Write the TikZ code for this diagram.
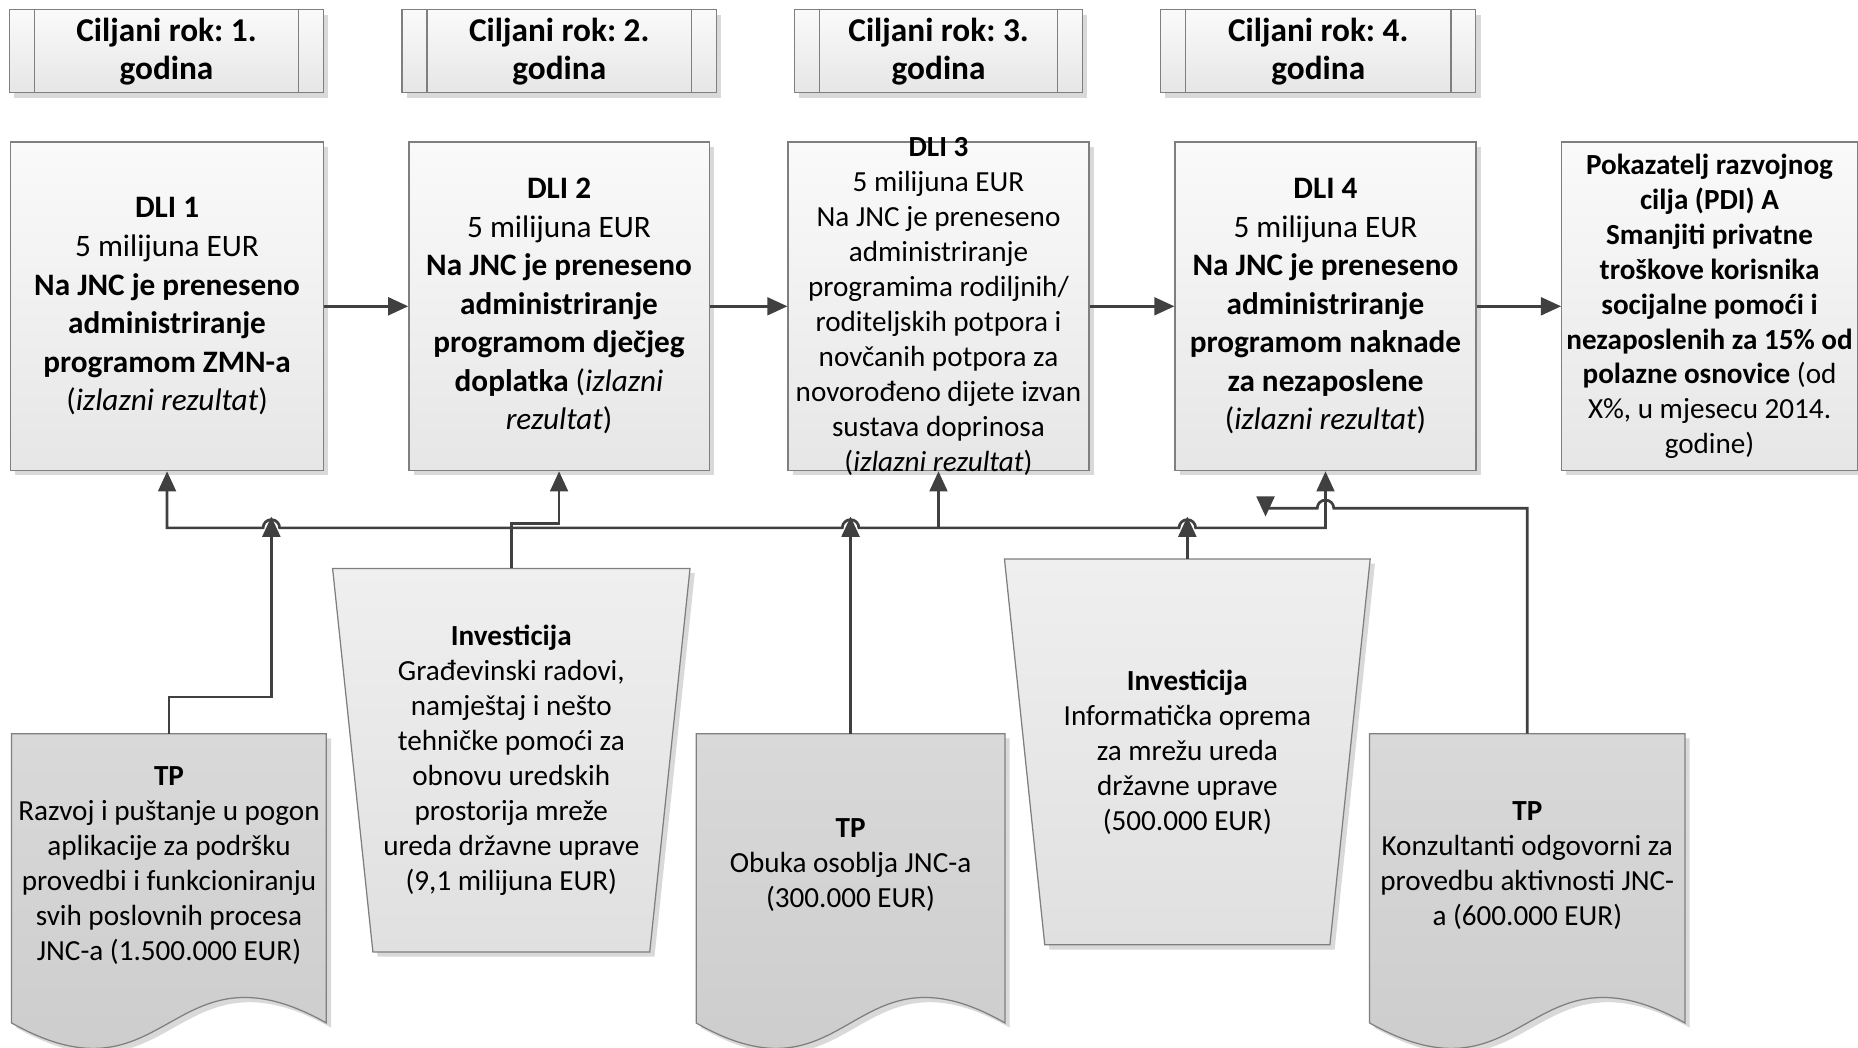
\documentclass[tikz,border=0pt]{standalone}
\usepackage{fontspec}
\setmainfont{Carlito}
\usetikzlibrary{arrows.meta,calc,shadows,backgrounds}
\frenchspacing

\definecolor{LineGray}{HTML}{404040}
\definecolor{EdgeGray}{HTML}{7F7F7F}
\definecolor{ShadowGray}{HTML}{D9D9D9}
\definecolor{BoxTop}{HTML}{FAFAFA}
\definecolor{BoxBottom}{HTML}{E6E6E6}
\definecolor{TpTop}{HTML}{D9D9D9}
\definecolor{TpBottom}{HTML}{CBCBCB}
\definecolor{InvTop}{HTML}{EFEFEF}
\definecolor{InvBottom}{HTML}{E0E0E0}

\newcommand\docpath[1]{(#1.north west) -- (#1.north east) -- ($(#1.south east)+(0,22)$)
  .. controls ($(#1.south)+(0,-52.5)$) and ($(#1.south)+(0,96.5)$) .. ($(#1.south west)+(0,22)$) -- cycle}
\newcommand\trappath[1]{(#1.north west) -- (#1.north east) -- ($(#1.south east)+(-34,0)$)
  -- ($(#1.south west)+(34,0)$) -- cycle}

\begin{document}
\begin{tikzpicture}[
  x=0.02cm, y=-0.02cm,
  every node/.style = {align=center, inner sep=1pt, text=black},
  Shade/.style = {drop shadow={shadow xshift=0.08cm, shadow yshift=-0.08cm, fill=ShadowGray, opacity=1}},
  YearBox/.style = {draw=EdgeGray, line width=0.6pt, top color=BoxTop, bottom color=BoxBottom, Shade,
    minimum height=1.4cm, font=\fontsize{16}{18.3}\selectfont\bfseries,
    path picture={
      \draw[EdgeGray, line width=0.6pt] ([xshift=0.42cm]path picture bounding box.north west) -- ([xshift=0.42cm]path picture bounding box.south west);
      \draw[EdgeGray, line width=0.6pt] ([xshift=-0.42cm]path picture bounding box.north east) -- ([xshift=-0.42cm]path picture bounding box.south east);}},
  DliBox/.style = {draw=EdgeGray, line width=0.6pt, top color=BoxTop, bottom color=BoxBottom, Shade,
    minimum height=5.55cm, font=\fontsize{15}{18.5}\selectfont},
  SmallText/.style = {font=\fontsize{14}{16.8}\selectfont},
  DocBox/.style = {SmallText, minimum height=4.43cm},
  TrapBox/.style = {SmallText}
  ]
  \useasboundingbox (0,0) rectangle (1568,884);

  \node[YearBox, minimum width=5.3cm] (g1) at (140.5,43.3) {Ciljani rok: 1.\\godina};
  \node[YearBox, minimum width=5.31cm] (g2) at (472,43.3) {Ciljani rok: 2.\\godina};
  \node[YearBox, minimum width=4.86cm] (g3) at (792.1,43.3) {Ciljani rok: 3.\\godina};
  \node[YearBox, minimum width=5.32cm] (g4) at (1112.5,43.3) {Ciljani rok: 4.\\godina};

  \node[DliBox, minimum width=5.29cm] (d1) at (141,258.5)
    {\textbf{DLI 1}\\5 milijuna EUR\\\textbf{Na JNC je preneseno}\\\textbf{administriranje}\\
     \textbf{programom ZMN-a}\\(\textit{izlazni rezultat})};
  \node[DliBox, minimum width=5.07cm] (d2) at (471.8,258.5)
    {\textbf{DLI 2}\\5 milijuna EUR\\\textbf{Na JNC je preneseno}\\\textbf{administriranje}\\
     \textbf{programom dječjeg}\\\textbf{doplatka} (\textit{izlazni}\\\textit{rezultat})};
  \node[DliBox, minimum width=5.08cm] (d3) at (792,258.5) {};
  \node[SmallText] (d3t) at (d3.center)
    {\textbf{DLI 3}\\5 milijuna EUR\\Na JNC je preneseno\\administriranje\\programima rodiljnih/\\
     roditeljskih potpora i\\novčanih potpora za\\novorođeno dijete izvan\\sustava doprinosa\\
     (\textit{izlazni rezultat})};
  \node[DliBox, minimum width=5.08cm] (d4) at (1118.6,258.5)
    {\textbf{DLI 4}\\5 milijuna EUR\\\textbf{Na JNC je preneseno}\\\textbf{administriranje}\\
     \textbf{programom naknade}\\\textbf{za nezaposlene}\\(\textit{izlazni rezultat})};
  \node[DliBox, SmallText, minimum width=4.99cm] (pdi) at (1442.7,258.5)
    {\textbf{Pokazatelj razvojnog}\\\textbf{cilja (PDI) A}\\\textbf{Smanjiti privatne}\\
     \textbf{troškove korisnika}\\\textbf{socijalne pomoći i}\\\textbf{nezaposlenih za 15\% od}\\
     \textbf{polazne osnovice} (od\\X\%, u mjesecu 2014.\\godine)};

  \node[DocBox, minimum width=5.3cm] (tp1) at (142.6,730.2)
    {\textbf{TP}\\Razvoj i puštanje u pogon\\aplikacije za podršku\\provedbi i funkcioniranju\\
     svih poslovnih procesa\\JNC-a (1.500.000 EUR)};
  \node[TrapBox, minimum width=6.02cm, minimum height=6.46cm] (inv1) at (431.5,641.5)
    {\textbf{Investicija}\\Građevinski radovi,\\namještaj i nešto\\tehničke pomoći za\\
     obnovu uredskih\\prostorija mreže\\ureda državne uprave\\(9,1 milijuna EUR)};
  \node[DocBox, minimum width=5.2cm] (tp2) at (717.8,730.2)
    {\textbf{TP}\\Obuka osoblja JNC-a\\(300.000 EUR)};
  \node[TrapBox, minimum width=6.16cm, minimum height=6.5cm] (inv2) at (1002,634.5)
    {\textbf{Investicija}\\Informatička oprema\\za mrežu ureda\\državne uprave\\(500.000 EUR)};
  \node[DocBox, minimum width=5.31cm] (tp3) at (1288.9,730.2)
    {\textbf{TP}\\Konzultanti odgovorni za\\provedbu aktivnosti JNC-\\a (600.000 EUR)};

  \begin{pgfonlayer}{background}
    \foreach \n in {tp1,tp2,tp3} {
      \fill[ShadowGray, transform canvas={shift={(0.08cm,-0.08cm)}}] \docpath{\n};
      \draw[EdgeGray, line width=0.6pt, top color=TpTop, bottom color=TpBottom] \docpath{\n};
    }
    \foreach \n in {inv1,inv2} {
      \fill[ShadowGray, transform canvas={shift={(0.08cm,-0.08cm)}}] \trappath{\n};
      \draw[EdgeGray, line width=0.6pt, top color=InvTop, bottom color=InvBottom] \trappath{\n};
    }
  \end{pgfonlayer}

  \tikzset{Link/.style = {draw=LineGray, line width=1.3pt, >={Triangle[length=0.34cm,width=0.3cm]}}}

  \coordinate (bus) at (0,445.5);
  \coordinate (hop) at (0,429);
  \coordinate (j1) at (229,436);
  \coordinate (j2) at (tp2.north |- j1);
  \coordinate (j3) at (inv2.north |- j1);
  \coordinate (j4) at (1068,436);

  \draw[Link,->] (d1) -- (d2);
  \draw[Link,->] (d2) -- (d3);
  \draw[Link,->] (d3) -- (d4);
  \draw[Link,->] (d4) -- (pdi);

  \draw[Link,<->] (d1.south) -- (d1.south |- bus)
    -- ($(j1 |- bus)+(-7,0)$) arc[start angle=180, end angle=0, radius=0.14cm]
    -- ($(j2 |- bus)+(-7,0)$) arc[start angle=180, end angle=0, radius=0.14cm]
    -- ($(j3 |- bus)+(-7,0)$) arc[start angle=180, end angle=0, radius=0.14cm]
    -- (d4.south |- bus) -- (d4.south);
  \draw[Link,->] (d3.south |- bus) -- (d3.south);
  \draw[Link,->] (tp1.north) -- ($(tp1.north)+(0,-31)$) -| (j1);
  \draw[Link,->] (inv1.north) |- ($(d2.south)+(0,44)$) -- (d2.south);
  \draw[Link,->] (tp2.north) -- (j2);
  \draw[Link,->] (inv2.north) -- (j3);
  \draw[Link,->] (tp3.north) |- ($(d4.south |- hop)+(7,0)$) arc[start angle=0, end angle=180, radius=0.14cm]
    -- (j4 |- hop) -- (j4);

\end{tikzpicture}
\end{document}
